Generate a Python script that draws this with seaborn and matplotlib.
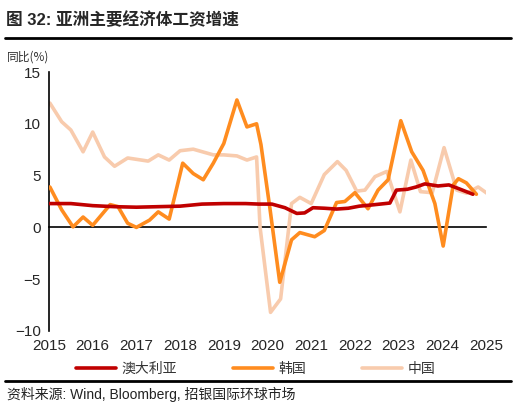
import matplotlib
matplotlib.use('Agg')
import matplotlib.pyplot as plt
import pandas as pd
import seaborn as sns

# Australia (quarterly-ish readings)
au_t = [2015.0, 2015.5, 2016.0, 2016.5, 2017.0, 2017.5, 2018.0, 2018.5, 2019.0, 2019.5,
        2019.8, 2020.1, 2020.4, 2020.67, 2020.85, 2021.04, 2021.3, 2021.58, 2021.85, 2022.1,
        2022.35, 2022.6, 2022.8, 2022.95, 2023.2, 2023.4, 2023.6, 2023.9, 2024.15, 2024.4, 2024.7]
au_v = [2.3, 2.3, 2.1, 2.0, 1.95, 2.0, 2.05, 2.25, 2.3, 2.3,
        2.25, 2.25, 1.9, 1.35, 1.4, 1.9, 1.85, 1.77, 1.85, 2.05,
        2.15, 2.26, 2.35, 3.6, 3.68, 3.9, 4.2, 4.0, 4.1, 3.7, 3.2]

# Korea
kr_t = [2015.02, 2015.29, 2015.55, 2015.78, 2016.0, 2016.4, 2016.58, 2016.8, 2017.0, 2017.3,
        2017.5, 2017.75, 2018.06, 2018.3, 2018.53, 2018.76, 2019.0, 2019.3, 2019.53, 2019.75,
        2019.85, 2020.06, 2020.28, 2020.55, 2020.74, 2021.08, 2021.3, 2021.58, 2021.77, 2022.0,
        2022.3, 2022.53, 2022.76, 2023.05, 2023.3, 2023.56, 2023.83, 2024.02, 2024.25, 2024.37,
        2024.55, 2024.78]
kr_v = [3.9, 1.7, 0.05, 1.0, 0.2, 2.2, 2.0, 0.4, 0.0, 0.7,
        1.5, 0.8, 6.2, 5.2, 4.6, 6.2, 8.1, 12.3, 9.7, 10.0,
        8.0, 1.7, -5.3, -1.2, -0.5, -0.9, -0.3, 2.4, 2.5, 3.35,
        1.8, 3.6, 4.6, 10.3, 7.3, 5.5, 2.3, -1.8, 4.1, 4.7,
        4.3, 3.2]

# China
cn_t = [2015.02, 2015.29, 2015.5, 2015.78, 2016.0, 2016.27, 2016.5, 2016.8, 2017.27, 2017.5,
        2017.75, 2018.0, 2018.3, 2018.76, 2019.0, 2019.3, 2019.53, 2019.75, 2019.83, 2020.07,
        2020.3, 2020.55, 2020.74, 2021.0, 2021.3, 2021.6, 2021.8, 2022.04, 2022.23, 2022.46,
        2022.73, 2023.03, 2023.28, 2023.5, 2023.77, 2024.04, 2024.33, 2024.56, 2024.82, 2025.02]
cn_v = [12.0, 10.2, 9.4, 7.3, 9.2, 6.8, 5.9, 6.7, 6.4, 7.0,
        6.5, 7.4, 7.55, 7.0, 7.0, 6.9, 6.5, 6.8, 0.0, -8.2,
        -6.9, 2.3, 2.9, 2.3, 5.1, 6.35, 5.5, 3.5, 3.6, 4.9,
        5.4, 1.5, 6.5, 3.45, 3.35, 7.7, 3.6, 3.3, 3.9, 3.3]

years = list(range(2015, 2026))
series_names = ['澳大利亚', '韩国', '中国']
colors = ['#C00000', '#FF8C1F', '#F8CBAD']

df = pd.concat([
    pd.DataFrame({'t': au_t, 'v': au_v, 's': series_names[0]}),
    pd.DataFrame({'t': kr_t, 'v': kr_v, 's': series_names[1]}),
    pd.DataFrame({'t': cn_t, 'v': cn_v, 's': series_names[2]}),
])

sns.set_style('white')
mixed = ['Liberation Sans', 'Noto Sans CJK SC', 'DejaVu Sans']
plt.rcParams['font.family'] = mixed
cjk = ['Noto Sans CJK SC', 'DejaVu Sans']

fig = plt.figure(figsize=(5.16, 4.13), dpi=100)
ax = fig.add_axes([49 / 516, 1 - 331 / 413, (486 - 49) / 516, (331 - 72) / 413])

sns.lineplot(data=df, x='t', y='v', hue='s', hue_order=series_names,
             palette=dict(zip(series_names, colors)), linewidth=2.6, sort=False,
             legend=False, ax=ax)
for line, z in zip(ax.lines, [4, 3, 2]):
    line.set_zorder(z)
    line.set_solid_joinstyle('round')
    line.set_solid_capstyle('round')

ax.set_xlim(2015, 2025)
ax.set_ylim(-10, 15)
ax.set_yticks([-10, -5, 0, 5, 10, 15])
ax.set_xticks(years)
ax.set_xlabel('')
ax.set_ylabel('')

for s in ['top', 'right']:
    ax.spines[s].set_visible(False)
ax.spines['left'].set_color('black')
ax.spines['left'].set_linewidth(1.2)
ax.spines['bottom'].set_position(('data', 0))
ax.spines['bottom'].set_color('black')
ax.spines['bottom'].set_linewidth(1.2)
ax.spines['bottom'].set_zorder(1)
ax.tick_params(axis='x', direction='out', length=4, width=1.2, color='black', labelbottom=False)
ax.tick_params(axis='y', direction='out', length=4, width=1.2, color='black', labelsize=11, pad=2)

sec = ax.secondary_xaxis('bottom')
sec.set_xticks(years)
sec.set_xticklabels([str(y) for y in years])
sec.tick_params(length=0, labelsize=11, pad=6)
sec.spines['bottom'].set_visible(False)

# legend
handles = [plt.Line2D([], [], color=c, linewidth=2.6) for c in colors]
fig.legend(handles, series_names, loc='center', bbox_to_anchor=(0.495, 1 - 369 / 413),
           ncol=3, frameon=False, handlelength=2.9, handletextpad=0.4, columnspacing=4.0,
           prop={'family': cjk, 'size': 10}, labelcolor='#333333')

# title and rules
fig.text(6 / 516, 1 - 20 / 413, '图 32: 亚洲主要经济体工资增速', fontsize=12, fontweight='bold',
         family=mixed, va='center', ha='left')
fig.add_artist(plt.Line2D([5 / 516, 511 / 516], [1 - 38 / 413] * 2, color='black', linewidth=2))
fig.text(7 / 516, 1 - 57 / 413, '同比(%)', fontsize=8.5, family=cjk, va='center', ha='left',
         color='#333333')
fig.add_artist(plt.Line2D([5 / 516, 511 / 516], [1 - 381 / 413] * 2, color='black', linewidth=2))
fig.text(7 / 516, 1 - 394 / 413, '资料来源: Wind, Bloomberg, 招银国际环球市场', fontsize=10,
         family=mixed, va='center', ha='left', color='#222222')

fig.savefig('out.png', dpi=100)
